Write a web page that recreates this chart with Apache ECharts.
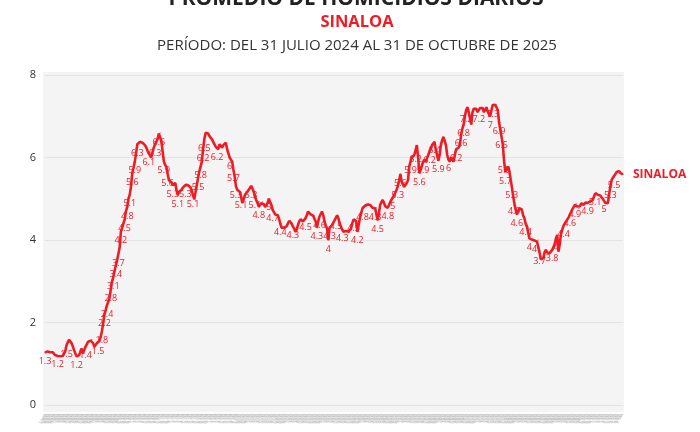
<!DOCTYPE html>
<html>
<head>
<meta charset="utf-8">
<script src="https://cdn.jsdelivr.net/npm/echarts@6/dist/echarts.min.js"></script>
<style>
html,body{margin:0;padding:0;background:#fff;}
#chart{width:700px;height:432px;}
</style>
</head>
<body>
<div id="chart"></div>
<script>
// Daily average homicides, Sinaloa, 31 Jul 2024 .. 31 Oct 2025
const startDate = '2024-07-31';
const seriesName = 'SINALOA';
const yTicks = [0, 2, 4, 6, 8];
const values = [
1.27,1.29,1.30,1.29,1.28,1.29,1.28,1.25,1.21,1.19,
1.19,1.19,1.18,1.19,1.19,1.20,1.30,1.45,1.52,1.58,
1.55,1.50,1.42,1.33,1.25,1.18,1.17,1.21,1.30,1.37,
1.25,1.33,1.41,1.47,1.53,1.55,1.56,1.59,1.50,1.41,
1.45,1.50,1.52,1.55,1.65,1.79,1.98,2.20,2.30,2.42,
2.50,2.60,2.80,2.99,3.10,3.25,3.38,3.51,3.66,3.81,
4.20,4.30,4.40,4.50,4.70,4.80,5.00,5.10,5.30,5.62,
5.75,5.90,6.10,6.32,6.35,6.38,6.38,6.36,6.35,6.30,
6.25,6.17,6.10,6.05,6.00,6.12,6.24,6.32,6.38,6.45,
6.58,6.60,6.40,6.15,5.90,5.82,5.77,5.60,5.45,5.41,
5.40,5.33,5.36,5.38,5.20,5.09,5.17,5.20,5.22,5.27,
5.30,5.33,5.36,5.33,5.31,5.28,5.20,5.08,4.99,4.97,
5.33,5.50,5.66,5.78,5.90,6.20,6.45,6.60,6.60,6.58,
6.52,6.48,6.44,6.38,6.32,6.26,6.22,6.20,6.32,6.28,
6.24,6.30,6.34,6.36,6.20,6.10,6.00,5.95,5.90,5.70,
5.53,5.30,5.22,5.19,5.17,5.05,4.90,4.98,5.09,5.13,
5.17,5.21,5.26,5.31,5.25,5.17,5.05,4.97,4.90,4.81,
4.85,4.89,4.93,4.87,4.80,4.85,4.90,5.00,4.92,4.85,
4.73,4.69,4.62,4.62,4.60,4.52,4.40,4.30,4.28,4.30,
4.31,4.33,4.40,4.46,4.48,4.40,4.33,4.28,4.20,4.25,
4.36,4.45,4.50,4.48,4.45,4.49,4.53,4.60,4.69,4.65,
4.62,4.60,4.59,4.58,4.45,4.30,4.45,4.57,4.63,4.69,
4.60,4.45,4.35,4.28,4.00,4.30,4.33,4.36,4.42,4.48,
4.54,4.60,4.52,4.41,4.32,4.25,4.20,4.21,4.22,4.22,
4.20,4.19,4.28,4.41,4.50,4.48,4.46,4.20,4.20,4.53,
4.65,4.77,4.80,4.83,4.83,4.86,4.89,4.85,4.81,4.78,
4.75,4.77,4.78,4.48,4.65,4.85,4.92,4.97,4.90,4.82,
4.80,4.78,4.85,4.92,4.98,5.03,5.09,5.15,5.22,5.31,
5.45,5.60,5.41,5.35,5.29,5.33,5.38,5.45,5.78,5.90,
6.00,6.02,6.06,6.18,6.30,6.00,5.62,5.70,5.80,5.90,
5.95,5.90,5.98,6.06,6.15,6.20,6.30,6.33,6.38,6.18,
6.06,5.92,6.06,6.30,6.42,6.50,6.40,6.30,6.06,5.95,
5.90,6.00,6.02,5.90,6.05,6.20,6.18,6.24,6.30,6.55,
6.70,6.80,7.00,7.15,7.22,7.10,6.95,6.80,7.10,7.18,
7.20,7.18,7.10,7.15,7.20,7.18,7.20,7.10,7.15,7.22,
7.12,7.05,7.00,7.15,7.27,7.28,7.28,7.27,7.15,6.85,
6.85,6.50,6.30,5.90,5.65,5.71,5.78,5.70,5.50,5.31,
5.10,4.90,4.75,4.62,4.70,4.77,4.76,4.74,4.60,4.53,
4.40,4.33,4.30,4.04,4.02,4.01,4.00,3.99,3.98,3.96,
4.00,3.70,3.53,3.52,3.56,3.70,3.76,3.70,3.66,3.68,
3.72,3.76,3.79,3.90,4.04,4.12,3.72,3.90,4.15,4.25,
4.35,4.40,4.45,4.48,4.55,4.62,4.68,4.75,4.80,4.85,
4.89,4.81,4.77,4.82,4.89,4.87,4.85,4.90,4.93,4.90,
4.92,4.93,4.95,4.97,5.05,5.13,5.16,5.10,5.10,5.08,
5.05,5.00,4.95,4.90,4.92,4.89,5.10,5.30,5.45,5.51,
5.53,5.60,5.65,5.67,5.67,5.62,5.60,5.59
];
// one category per day, starting at startDate
const categories = [];
(function(){
  const d0 = new Date(startDate + 'T00:00:00Z');
  for (let i = 0; i < values.length; i++) {
    const d = new Date(d0.getTime() + i * 86400000);
    const dd = String(d.getUTCDate()).padStart(2,'0');
    const mm = String(d.getUTCMonth()+1).padStart(2,'0');
    categories.push(dd + '/' + mm + '/' + d.getUTCFullYear());
  }
})();

const RED = '#ee1c25';
const FONT = 'Open Sans';
const chart = echarts.init(document.getElementById('chart'), null, {renderer:'canvas'});
chart.setOption({
  animation: false,
  backgroundColor: '#ffffff',
  textStyle: {fontFamily: FONT},
  title: [
    {text: 'PROMEDIO DE HOMICIDIOS DIARIOS', left: 356, top: -11, padding: 0, textAlign: 'center',
     textStyle: {fontFamily: FONT, fontSize: 21, fontWeight: 'bold', color: '#222'}},
    {text: 'SINALOA', left: 357, top: 14, padding: 0, textAlign: 'center',
     textStyle: {fontFamily: FONT, fontSize: 16.5, fontWeight: 'bold', color: RED}},
    {text: 'PERÍODO: DEL 31 JULIO 2024 AL 31 DE OCTUBRE DE 2025', left: 357, top: 38, padding: 0, textAlign: 'center',
     textStyle: {fontFamily: FONT, fontSize: 15, fontWeight: 'normal', color: '#333'}}
  ],
  graphic: [
    {type: 'rect', z: -100, silent: true, shape: {x: 43, y: 72, width: 581, height: 340}, style: {fill: '#f4f4f4'}}
  ],
  grid: {left: 45, right: 77, top: 75, bottom: 27},
  xAxis: {
    type: 'category', boundaryGap: false, data: categories,
    axisLine: {show: false}, axisTick: {show: false},
    axisLabel: {interval: 0, rotate: 60, fontSize: 2, color: '#8a8a8a', margin: 9}
  },
  yAxis: {
    type: 'value', min: yTicks[0], max: yTicks[yTicks.length-1], interval: 2,
    axisLine: {show: false}, axisTick: {show: false},
    axisLabel: {color: '#333', fontSize: 11, margin: 9},
    splitLine: {lineStyle: {color: '#e3e3e3', width: 1}}
  },
  series: [{
    name: seriesName, type: 'line', data: values,
    symbol: 'circle', symbolSize: 1, showSymbol: true, showAllSymbol: true,
    itemStyle: {color: RED},
    lineStyle: {color: RED, width: 2.6},
    label: {show: true, position: 'bottom', distance: 4, fontSize: 9, color: RED, fontFamily: FONT,
      formatter: p => (Math.round(p.value*10)/10).toString()},
    labelLayout: {hideOverlap: true},
    endLabel: {show: true, formatter: seriesName, color: RED, fontSize: 12, fontWeight: 'bold', distance: 10, fontFamily: FONT}
  }]
});
</script>
</body>
</html>
